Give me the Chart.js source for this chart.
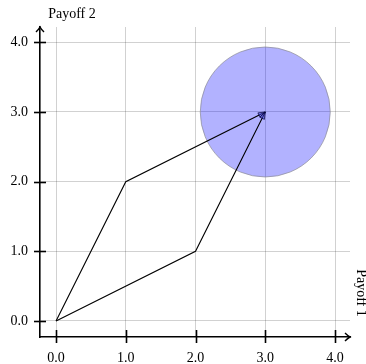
<!DOCTYPE html>
<html>
<head>
<meta charset="utf-8">
<script src="https://cdn.jsdelivr.net/npm/chart.js@4"></script>
<style>
html,body{margin:0;padding:0;background:#fff;}
#wrap{width:366px;height:364px;}
</style>
</head>
<body>
<div id="wrap"><canvas id="c" width="366" height="364"></canvas></div>
<script>
// ---- data ----
const pathA_x = [0, 1, 3];
const pathA_y = [0, 2, 3];
const pathB_x = [0, 2, 3];
const pathB_y = [0, 1, 3];
const circleCenter = {x: 3, y: 3};
const xTicks = [0, 1, 2, 3, 4];
const yTicks = [0, 1, 2, 3, 4];
const xLabel = 'Payoff 1';
const yLabel = 'Payoff 2';

const FONT = '"Liberation Serif", "DejaVu Serif", serif';

function toPts(xs, ys){ return xs.map((x,i)=>({x:x, y:ys[i]})); }

const axesPlugin = {
  id: 'axesDeco',
  afterDraw(chart){
    const ctx = chart.ctx;
    const ca = chart.chartArea;
    const xs = chart.scales.x, ys = chart.scales.y;
    ctx.save();
    ctx.strokeStyle = '#000';
    ctx.lineWidth = 1.6;
    // tick marks crossing axes
    xTicks.forEach(v=>{
      const px = Math.round(xs.getPixelForValue(v))+0.5;
      ctx.beginPath(); ctx.moveTo(px, ca.bottom-7); ctx.lineTo(px, ca.bottom+6); ctx.stroke();
    });
    yTicks.forEach(v=>{
      const py = Math.round(ys.getPixelForValue(v))+0.5;
      ctx.beginPath(); ctx.moveTo(ca.left-6, py); ctx.lineTo(ca.left+6, py); ctx.stroke();
    });
    // axis arrows
    ctx.lineWidth = 1.4;
    ctx.beginPath();
    ctx.moveTo(ca.right-5, ca.bottom-4); ctx.quadraticCurveTo(ca.right-2, ca.bottom-1, ca.right, ca.bottom);
    ctx.quadraticCurveTo(ca.right-2, ca.bottom+1, ca.right-5, ca.bottom+4);
    ctx.stroke();
    ctx.beginPath();
    ctx.moveTo(ca.left-4, ca.top+5); ctx.quadraticCurveTo(ca.left-1, ca.top+2, ca.left, ca.top);
    ctx.quadraticCurveTo(ca.left+1, ca.top+2, ca.left+4, ca.top+5);
    ctx.stroke();
    // arrowheads at the end of each path
    [[pathA_x,pathA_y],[pathB_x,pathB_y]].forEach(([px,py])=>{
      const n = px.length;
      const x1 = xs.getPixelForValue(px[n-2]), y1 = ys.getPixelForValue(py[n-2]);
      const x2 = xs.getPixelForValue(px[n-1]), y2 = ys.getPixelForValue(py[n-1]);
      const a = Math.atan2(y2-y1, x2-x1);
      const L = 7, W = 2.5;
      const bx = x2 - L*Math.cos(a), by = y2 - L*Math.sin(a);
      ctx.beginPath();
      ctx.moveTo(x2, y2);
      ctx.lineTo(bx + W*Math.sin(a), by - W*Math.cos(a));
      ctx.lineTo(bx - W*Math.sin(a), by + W*Math.cos(a));
      ctx.closePath();
      ctx.fillStyle = 'rgba(70,70,230,0.5)';
      ctx.fill();
      ctx.lineWidth = 0.7;
      ctx.strokeStyle = '#000033';
      ctx.stroke();
    });
    // axis labels
    ctx.fillStyle = '#000';
    ctx.font = '14px ' + FONT;
    ctx.textAlign = 'center';
    ctx.textBaseline = 'middle';
    ctx.fillText(yLabel, 72, 14);
    ctx.translate(361, 293);
    ctx.rotate(Math.PI/2);
    ctx.fillText(xLabel, 0, 0);
    ctx.restore();
  }
};

new Chart(document.getElementById('c'), {
  type: 'scatter',
  data: {
    datasets: [
      {
        data: toPts(pathA_x, pathA_y), showLine: true, borderColor: '#000', borderWidth: 1.1,
        pointRadius: 0, fill: false, order: 1
      },
      {
        data: toPts(pathB_x, pathB_y), showLine: true, borderColor: '#000', borderWidth: 1.1,
        pointRadius: 0, fill: false, order: 1
      },
      {
        data: [circleCenter], pointRadius: 65, pointHoverRadius: 65,
        backgroundColor: 'rgba(0,0,255,0.3)', borderColor: 'rgba(140,140,150,0.7)', borderWidth: 1,
        order: 2
      }
    ]
  },
  options: {
    responsive: false,
    animation: false,
    events: [],
    layout: { autoPadding: false, padding: { top: 27, right: 16, left: 0, bottom: 0 } },
    plugins: { legend: { display: false }, tooltip: { enabled: false } },
    scales: {
      x: {
        type: 'linear', min: -0.23, max: 4.215,
        afterBuildTicks: s => { s.ticks = xTicks.map(v=>({value:v})); },
        afterFit: s => { s.height = 27; },
        ticks: { includeBounds: false, padding: 13, color: '#000',
                 font: { family: FONT, size: 14 }, callback: v => v.toFixed(1) },
        grid: { color: 'rgba(0,0,0,0.18)', lineWidth: 1, drawTicks: false },
        border: { display: true, color: '#000', width: 1.6 }
      },
      y: {
        type: 'linear', min: -0.23, max: 4.22,
        afterBuildTicks: s => { s.ticks = yTicks.map(v=>({value:v})); },
        afterFit: s => { s.width = 40; },
        ticks: { includeBounds: false, padding: 12, color: '#000',
                 font: { family: FONT, size: 14 }, callback: v => v.toFixed(1) },
        grid: { color: 'rgba(0,0,0,0.18)', lineWidth: 1, drawTicks: false },
        border: { display: true, color: '#000', width: 1.6 }
      }
    }
  },
  plugins: [axesPlugin]
});
</script>
</body>
</html>
